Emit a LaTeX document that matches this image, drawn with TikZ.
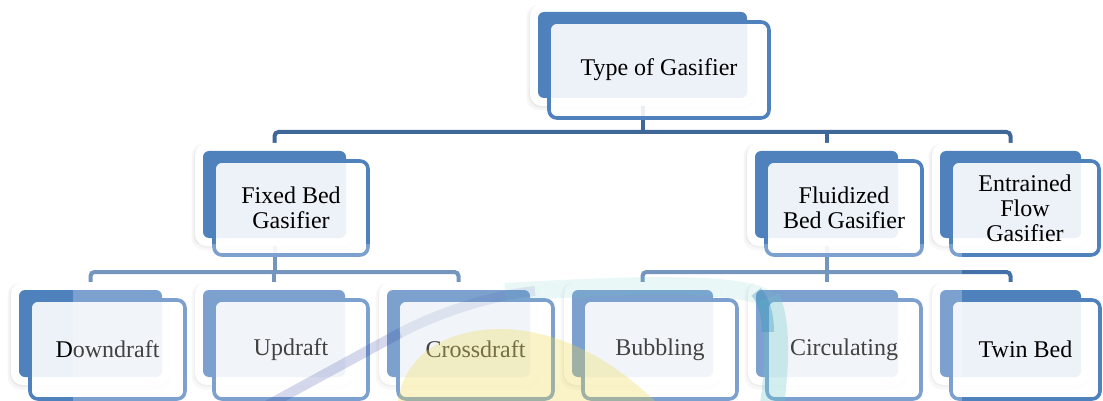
\documentclass[tikz,border=0pt]{standalone}
\usepackage{fontspec}
\setmainfont{Liberation Serif}

\definecolor{accent}{HTML}{4F81BD}
\definecolor{linkA}{HTML}{3F6899}
\definecolor{linkB}{HTML}{4472A8}
\definecolor{markyellow}{HTML}{F0D848}
\definecolor{markcyan}{HTML}{6CC8CC}
\definecolor{markteal}{HTML}{2A86B8}
\definecolor{markblue}{HTML}{2E3EA0}

\pgfdeclarelayer{paper}
\pgfdeclarelayer{links}
\pgfdeclarelayer{wash}
\pgfsetlayers{paper,links,main,wash}

\tikzset{
  plain/.style={inner sep=0pt, outer sep=0pt},
  softshade/.style={plain, fill=black, fill opacity=#1, rounded corners=13pt},
  frame/.style={plain, fill=white, rounded corners=12pt},
  backbox/.style={plain, fill=accent, rounded corners=6pt},
  frontbox/.style={plain, fill=white, fill opacity=0.9, draw=accent,
    line width=3.6pt, rounded corners=8pt},
  caption/.style={plain, font=\fontsize{24}{25}\selectfont, align=center, text=black},
  linkmain/.style={draw=linkA, line width=4pt, rounded corners=4pt},
  linksub/.style={draw=linkB, line width=4pt, rounded corners=4pt},
}

% #1 name; #2..#5 back panel x1,y1,x2,y2; #6,#7 front panel right/bottom; #8 text
\newcommand\gasbox[8]{%
  % soft shadow under the white frame
  \node[softshade=0.035, minimum width={#4-#2+20}, minimum height={#5-#3+20}]
    at ({(#2+#4)/2-1.5},{(#3+#5)/2+2.5}) {};
  \node[softshade=0.045, minimum width={#4-#2+17}, minimum height={#5-#3+17}]
    at ({(#2+#4)/2-1},{(#3+#5)/2+1.5}) {};
  \node[frame, minimum width={#4-#2+16}, minimum height={#5-#3+16}]
    (o#1) at ({(#2+#4)/2},{(#3+#5)/2}) {};
  \node[backbox, minimum width={#4-#2}, minimum height={#5-#3}]
    (b#1) at ({(#2+#4)/2},{(#3+#5)/2}) {};
  \node[frontbox, minimum width={#6-#2-11}, minimum height={#7-#3-10}]
    (f#1) at ({(#2+11+#6)/2},{(#3+10+#7)/2}) {};
  \node[caption] (t#1) at (f#1.center) {#8};
}

\begin{document}
\begin{tikzpicture}[x=1pt,y=-1pt]
\begin{pgfonlayer}{paper}
  \fill[white] (0,0) rectangle (1103,401);
\end{pgfonlayer}
\useasboundingbox (0,0) rectangle (1103,401);

% level 1
\gasbox{top}{538}{12}{747}{98}{769}{118}{Type of Gasifier}
% level 2
\gasbox{fixed}{203}{151}{346}{238}{368}{255}{Fixed Bed\\Gasifier}
\gasbox{fluid}{755}{151}{898}{238}{922}{255}{Fluidized\\Bed Gasifier}
\gasbox{entr}{940}{151}{1081}{238}{1099}{255}{Entrained\\Flow\\Gasifier}
% level 3
\gasbox{down}{19}{290}{162}{377}{185}{399}{Downdraft}
\gasbox{up}{203}{290}{345}{377}{368}{399}{Updraft}
\gasbox{cross}{387}{290}{530}{377}{553}{399}{Crossdraft}
\gasbox{bubb}{572}{290}{713}{377}{737}{399}{Bubbling}
\gasbox{circ}{756}{290}{898}{377}{921}{399}{Circulating}
\gasbox{twin}{940}{290}{1081}{377}{1100}{399}{Twin Bed}

% connectors
\coordinate (busA) at (0,132);
\coordinate (busB) at (0,272);
\begin{pgfonlayer}{links}
  \draw[linkmain] (otop.south) -- (otop.south |- busA);
  \draw[linkmain] (ofixed.north) |- (oentr.north |- busA) -- (oentr.north);
  \draw[linkmain] (ofluid.north) -- (ofluid.north |- busA);

  \draw[linksub] (ofixed.south) -- (ofixed.south |- busB);
  \draw[linksub] (odown.north) |- (ocross.north |- busB) -- (ocross.north);
  \draw[linksub] (oup.north) -- (oup.north |- busB);

  \draw[linksub] (ofluid.south) -- (ofluid.south |- busB);
  \draw[linksub] (obubb.north) |- (otwin.north |- busB) -- (otwin.north);
  \draw[linksub] (ocirc.north) -- (ocirc.north |- busB);
\end{pgfonlayer}

% faint emblem lying over the lower rows
\begin{pgfonlayer}{wash}
  \begin{scope}
    \clip (73,244) rectangle (962,401);
    \fill[white, opacity=0.26] (73,244) rectangle (962,401);
    \fill[markyellow, opacity=0.3]
      (398,401) .. controls (405,352) and (450,328) .. (505,329)
      .. controls (570,332) and (620,368) .. (655,401) -- cycle;
    \draw[markcyan, opacity=0.14, line width=18pt]
      (505,292) .. controls (640,284) and (745,282) .. (768,300);
    \draw[markcyan, opacity=0.3, line width=24pt]
      (768,298) .. controls (778,320) and (778,360) .. (772,405);
    \draw[markteal, opacity=0.3, line width=12pt]
      (756,292) .. controls (764,300) and (768,315) .. (768,332);
    \draw[markblue, opacity=0.2, line width=10pt]
      (268,405) -- (400,333);
    \draw[markblue, opacity=0.1, line width=10pt]
      (400,333) .. controls (440,312) and (490,296) .. (535,291);
  \end{scope}
\end{pgfonlayer}
\end{tikzpicture}
\end{document}
